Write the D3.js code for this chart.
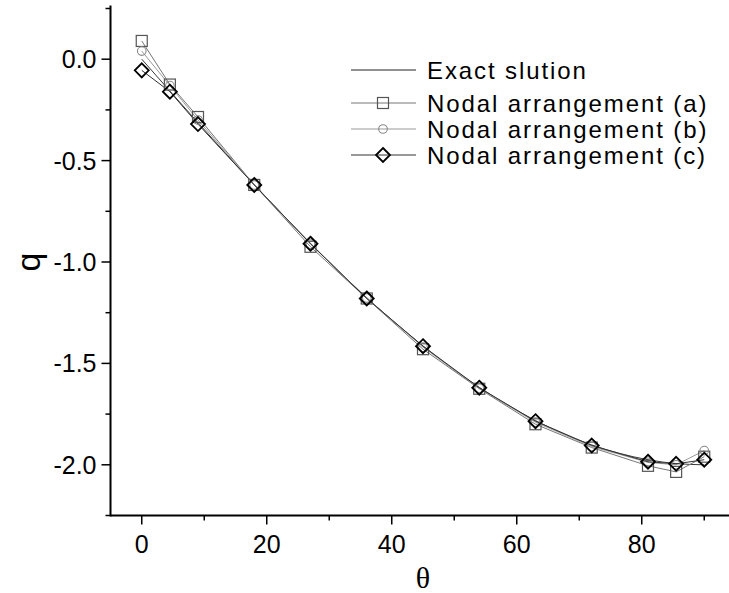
<!DOCTYPE html>
<html>
<head>
<meta charset="utf-8">
<script src="https://cdn.jsdelivr.net/npm/d3@7"></script>
<style>
  body { margin: 0; background: #fff; }
  text { font-family: "Liberation Sans", Arial, sans-serif; }
</style>
</head>
<body>
<div id="chart"></div>
<script>
// nodal angles (degrees)
var theta = [0, 4.5, 9, 18, 27, 36, 45, 54, 63, 72, 81, 85.5, 90];
// values
var exactQ = [0, -0.157, -0.313, -0.618, -0.908, -1.176, -1.414, -1.618, -1.782, -1.902, -1.975, -1.994, -2.0];
var nodalA = [0.09, -0.125, -0.285, -0.62, -0.925, -1.18, -1.43, -1.625, -1.80, -1.915, -2.005, -2.035, -1.96];
var nodalB = [0.04, -0.13, -0.30, -0.62, -0.912, -1.178, -1.42, -1.622, -1.79, -1.91, -1.988, -2.0, -1.93];
var nodalC = [-0.055, -0.16, -0.32, -0.62, -0.91, -1.18, -1.415, -1.62, -1.785, -1.905, -1.985, -1.995, -1.975];
var legendLabels = ["Exact slution", "Nodal arrangement (a)", "Nodal arrangement (b)", "Nodal arrangement (c)"];
var xTicks = [0, 20, 40, 60, 80];
var xMinor = [10, 30, 50, 70, 90];
var yTicks = [0, -0.5, -1.0, -1.5, -2.0];
var yMinor = [0.25, -0.25, -0.75, -1.25, -1.75, -2.25];

var W = 729, H = 593;
var svg = d3.select("#chart").append("svg")
  .attr("width", W).attr("height", H);

var x = d3.scaleLinear().domain([-5, 95]).range([110.5, 735.5]);
var y = d3.scaleLinear().domain([-2.25, 0.25]).range([515.5, 8.5]);

// axes
var xAxis = svg.append("g").attr("transform", "translate(0," + y(-2.25) + ")");
xAxis.append("line").attr("x1", x(-5)).attr("x2", W).attr("y1", 0).attr("y2", 0)
  .attr("stroke", "#000").attr("stroke-width", 2);
xAxis.selectAll(".maj").data(xTicks).enter().append("line")
  .attr("x1", d => x(d)).attr("x2", d => x(d)).attr("y1", 0).attr("y2", 9)
  .attr("stroke", "#000").attr("stroke-width", 1.5);
xAxis.selectAll(".min").data(xMinor).enter().append("line")
  .attr("x1", d => x(d)).attr("x2", d => x(d)).attr("y1", 0).attr("y2", 5)
  .attr("stroke", "#000").attr("stroke-width", 1.5);
xAxis.selectAll(".lab").data(xTicks).enter().append("text")
  .attr("x", d => x(d)).attr("y", 37).attr("text-anchor", "middle")
  .style("font-size", "25px").text(d => d);

var yAxis = svg.append("g").attr("transform", "translate(" + x(-5) + ",0)");
yAxis.append("line").attr("x1", 0).attr("x2", 0).attr("y1", y(0.25) - 3).attr("y2", y(-2.25) + 1)
  .attr("stroke", "#000").attr("stroke-width", 2);
yAxis.selectAll(".maj").data(yTicks).enter().append("line")
  .attr("x1", -9).attr("x2", 0).attr("y1", d => y(d)).attr("y2", d => y(d))
  .attr("stroke", "#000").attr("stroke-width", 1.5);
yAxis.selectAll(".min").data(yMinor).enter().append("line")
  .attr("x1", -5).attr("x2", 0).attr("y1", d => y(d)).attr("y2", d => y(d))
  .attr("stroke", "#000").attr("stroke-width", 1.5);
yAxis.selectAll(".lab").data(yTicks).enter().append("text")
  .attr("x", -14).attr("y", d => y(d) + 9).attr("text-anchor", "end")
  .style("font-size", "25px").text(d => d3.format(".1f")(d).replace("\u2212", "-"));

// axis titles
svg.append("text").attr("transform", "translate(40," + y(-1.0) + ") rotate(-90)")
  .attr("text-anchor", "middle").style("font-size", "34px").text("q");
svg.append("text").attr("x", x(45)).attr("y", 588).attr("text-anchor", "middle")
  .style("font-family", "'Liberation Serif', 'Times New Roman', serif")
  .style("font-size", "30px").text("θ");

// series
var series = [
  { vals: exactQ, line: "#222", lw: 0.9, mark: null },
  { vals: nodalA, line: "#777", lw: 1, mark: "square", ms: "#555", mw: 1.2 },
  { vals: nodalB, line: "#999", lw: 1, mark: "circle", ms: "#888", mw: 1.1 },
  { vals: nodalC, line: "#333", lw: 1, mark: "diamond", ms: "#000", mw: 1.8 }
];

function drawMarker(g, type, cx, cy, s) {
  if (type === "square") {
    g.append("rect").attr("x", cx - 5.5).attr("y", cy - 5.5).attr("width", 11).attr("height", 11)
      .attr("fill", "none").attr("stroke", s.ms).attr("stroke-width", s.mw);
  } else if (type === "circle") {
    g.append("circle").attr("cx", cx).attr("cy", cy).attr("r", 4.3)
      .attr("fill", "none").attr("stroke", s.ms).attr("stroke-width", s.mw);
  } else if (type === "diamond") {
    g.append("path").attr("d", "M" + cx + "," + (cy - 7) + "L" + (cx + 7) + "," + cy + "L" + cx + "," + (cy + 7) + "L" + (cx - 7) + "," + cy + "Z")
      .attr("fill", "none").attr("stroke", s.ms).attr("stroke-width", s.mw);
  }
}

var plot = svg.append("g");
series.forEach(function (s) {
  var pts = theta.map((t, i) => [t, s.vals[i]]);
  var line = d3.line().x(d => x(d[0])).y(d => y(d[1]));
  if (!s.mark) line.curve(d3.curveMonotoneX);
  plot.append("path").datum(pts).attr("d", line)
    .attr("fill", "none").attr("stroke", s.line).attr("stroke-width", s.lw);
});
series.forEach(function (s) {
  if (!s.mark) return;
  theta.forEach(function (t, i) {
    drawMarker(plot, s.mark, x(t), y(s.vals[i]), s);
  });
});

// legend
var legY = [70, 103, 129, 155];
var leg = svg.append("g");
series.forEach(function (s, i) {
  leg.append("line").attr("x1", 351).attr("x2", 416).attr("y1", legY[i]).attr("y2", legY[i])
    .attr("stroke", s.line).attr("stroke-width", 1);
  if (s.mark) drawMarker(leg, s.mark, 383, legY[i], s);
  leg.append("text").attr("x", 427).attr("y", legY[i] + 9)
    .style("font-size", "24px").style("letter-spacing", "1.9px").text(legendLabels[i]);
});
</script>
</body>
</html>
